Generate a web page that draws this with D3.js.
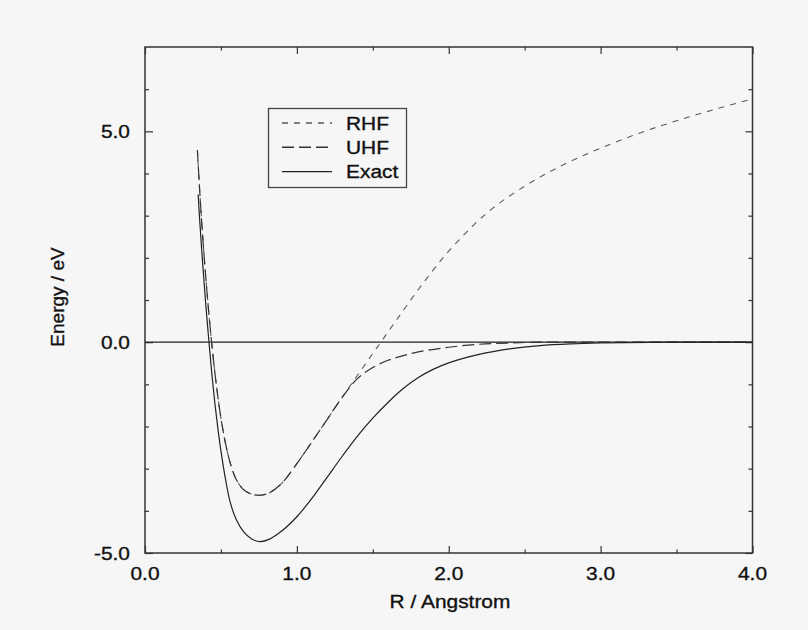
<!DOCTYPE html>
<html>
<head>
<meta charset="utf-8">
<script src="https://cdn.jsdelivr.net/npm/d3@7/dist/d3.min.js"></script>
<style>
  html, body { margin: 0; padding: 0; background: #f6f6f6; }
  svg { display: block; }
  text { font-family: "Liberation Sans", Arial, sans-serif; fill: #111; stroke: #111; stroke-width: 0.35px; }
</style>
</head>
<body>
<svg id="chart" width="808" height="630"></svg>
<script>
// ---------- data ----------
const exactR = [0.35, 0.36, 0.38, 0.40, 0.42, 0.44, 0.46, 0.48, 0.50, 0.53, 0.56, 0.60, 0.65, 0.70, 0.758, 0.82, 0.9, 1.0, 1.1, 1.2, 1.3, 1.4, 1.5, 1.6, 1.7, 1.8, 1.9, 2.0, 2.2, 2.4, 2.6, 2.8, 3.0, 3.5, 4.0];
const exactE = [3.5, 2.9, 1.85, 0.9, 0.05, -0.75, -1.45, -2.05, -2.58, -3.25, -3.78, -4.2, -4.5, -4.66, -4.73, -4.67, -4.48, -4.14, -3.7, -3.2, -2.7, -2.22, -1.8, -1.43, -1.1, -0.84, -0.64, -0.49, -0.29, -0.16, -0.08, -0.04, -0.02, 0.0, 0.0];

const rhfR = [0.345, 0.36, 0.38, 0.40, 0.42, 0.44, 0.46, 0.48, 0.50, 0.53, 0.56, 0.60, 0.65, 0.70, 0.758, 0.82, 0.9, 1.0, 1.1, 1.2, 1.3, 1.4, 1.5, 1.6, 1.7, 1.8, 1.9, 2.0, 2.25, 2.5, 2.75, 3.0, 3.25, 3.5, 3.75, 4.0];
const rhfE = [4.55, 3.6, 2.5, 1.55, 0.7, -0.05, -0.72, -1.3, -1.8, -2.4, -2.85, -3.25, -3.5, -3.6, -3.63, -3.57, -3.35, -2.88, -2.36, -1.83, -1.30, -0.78, -0.27, 0.24, 0.75, 1.25, 1.72, 2.16, 3.06, 3.70, 4.2, 4.6, 4.95, 5.25, 5.52, 5.77];

const uhfR = [0.345, 0.36, 0.38, 0.40, 0.42, 0.44, 0.46, 0.48, 0.50, 0.53, 0.56, 0.60, 0.65, 0.70, 0.758, 0.82, 0.9, 1.0, 1.1, 1.2, 1.3, 1.4, 1.5, 1.6, 1.7, 1.8, 2.0, 2.2, 2.4, 2.6, 3.0, 3.5, 4.0];
const uhfE = [4.55, 3.6, 2.5, 1.55, 0.7, -0.05, -0.72, -1.3, -1.8, -2.4, -2.85, -3.25, -3.5, -3.6, -3.63, -3.57, -3.35, -2.88, -2.36, -1.83, -1.30, -0.86, -0.60, -0.43, -0.32, -0.23, -0.12, -0.05, -0.02, 0.0, 0.0, 0.0, 0.0];

const xMajorTicks = [0, 1, 2, 3, 4];
const xTickLabels = ["0.0", "1.0", "2.0", "3.0", "4.0"];
const xMinorTicks = [0.5, 1.5, 2.5, 3.5];
const yMajorTicks = [-5, 0, 5];
const yTickLabels = ["-5.0", "0.0", "5.0"];
const yMinorTicks = [-4, -3, -2, -1, 1, 2, 3, 4, 6];
const seriesNames = ["RHF", "UHF", "Exact"];

// ---------- layout ----------
const svg = d3.select("#chart");
const pLeft = 145, pRight = 752.5, pTop = 47, pBottom = 553;
const x = d3.scaleLinear().domain([0, 4]).range([pLeft, pRight]);
const y = d3.scaleLinear().domain([-5, 7]).range([pBottom, pTop]);
const stretch = 1.1;
const fontSize = 19;

svg.append("rect").attr("width", 808).attr("height", 630).attr("fill", "#f6f6f6");

// ---------- axes (ticks inward on all four sides) ----------
function axisTicks(axisFn, scale, ticks, size, pos) {
  const g = svg.append("g").attr("transform", pos);
  g.call(axisFn(scale).tickValues(ticks).tickSize(size).tickFormat(""));
  g.selectAll(".domain").remove();
  g.selectAll(".tick line").attr("stroke", "#333").attr("stroke-width", 1.2);
  return g;
}
axisTicks(d3.axisBottom, x, xMajorTicks, -7, `translate(0,${pBottom})`);
axisTicks(d3.axisBottom, x, xMinorTicks, -3.5, `translate(0,${pBottom})`);
axisTicks(d3.axisTop, x, xMajorTicks, -7, `translate(0,${pTop})`);
axisTicks(d3.axisTop, x, xMinorTicks, -3.5, `translate(0,${pTop})`);
axisTicks(d3.axisLeft, y, yMajorTicks, -8, `translate(${pLeft},0)`);
axisTicks(d3.axisLeft, y, yMinorTicks, -4, `translate(${pLeft},0)`);
axisTicks(d3.axisRight, y, yMajorTicks, -7, `translate(${pRight},0)`);
axisTicks(d3.axisRight, y, yMinorTicks, -4, `translate(${pRight},0)`);

// tick labels
const xl = svg.append("g");
xMajorTicks.forEach((v, i) => {
  xl.append("text")
    .attr("transform", `translate(${x(v)},${pBottom + 27}) scale(${stretch},1)`)
    .attr("text-anchor", "middle")
    .attr("font-size", fontSize)
    .text(xTickLabels[i]);
});
const yl = svg.append("g");
yMajorTicks.forEach((v, i) => {
  yl.append("text")
    .attr("transform", `translate(${pLeft - 15},${y(v) + 7}) scale(${stretch},1)`)
    .attr("text-anchor", "end")
    .attr("font-size", fontSize)
    .text(yTickLabels[i]);
});

// axis titles
svg.append("text")
  .attr("transform", `translate(450,608) scale(${stretch},1)`)
  .attr("text-anchor", "middle")
  .attr("font-size", fontSize)
  .text("R / Angstrom");
svg.append("text")
  .attr("transform", `translate(64,297) rotate(-90)`)
  .attr("text-anchor", "middle")
  .attr("font-size", fontSize)
  .text("Energy / eV");

// zero line
svg.append("line")
  .attr("x1", x(0)).attr("x2", x(4))
  .attr("y1", y(0)).attr("y2", y(0))
  .attr("stroke", "#222").attr("stroke-width", 1.1);

// ---------- curves ----------
const line = d3.line().x(d => x(d[0])).y(d => y(d[1])).curve(d3.curveCatmullRom.alpha(0.5));
const styles = {
  RHF:   { color: "#5a5a5a", dash: "6,6",  width: 1.1 },
  UHF:   { color: "#333",    dash: "12,5", width: 1.2 },
  Exact: { color: "#222",    dash: null,   width: 1.2 }
};
const series = [
  { name: "RHF",   pts: d3.zip(rhfR, rhfE) },
  { name: "UHF",   pts: d3.zip(uhfR, uhfE) },
  { name: "Exact", pts: d3.zip(exactR, exactE) }
];
series.forEach(s => {
  const st = styles[s.name];
  svg.append("path")
    .attr("d", line(s.pts))
    .attr("fill", "none")
    .attr("stroke", st.color)
    .attr("stroke-width", st.width)
    .attr("stroke-dasharray", st.dash);
});

// frame
svg.append("rect")
  .attr("x", pLeft).attr("y", pTop)
  .attr("width", pRight - pLeft).attr("height", pBottom - pTop)
  .attr("fill", "none").attr("stroke", "#333").attr("stroke-width", 1.5);

// ---------- legend ----------
const lg = svg.append("g");
lg.append("rect")
  .attr("x", 268.5).attr("y", 108.5).attr("width", 138).attr("height", 79)
  .attr("fill", "#f6f6f6").attr("stroke", "#444").attr("stroke-width", 1.3);
seriesNames.forEach((name, i) => {
  const st = styles[name];
  const cy = 123 + i * 24.3;
  lg.append("line")
    .attr("x1", 282).attr("x2", 332).attr("y1", cy).attr("y2", cy)
    .attr("stroke", st.color).attr("stroke-width", st.width + 0.2)
    .attr("stroke-dasharray", st.dash);
  lg.append("text")
    .attr("transform", `translate(346,${cy + 6.5}) scale(${stretch},1)`)
    .attr("font-size", fontSize)
    .text(name);
});
</script>
</body>
</html>
